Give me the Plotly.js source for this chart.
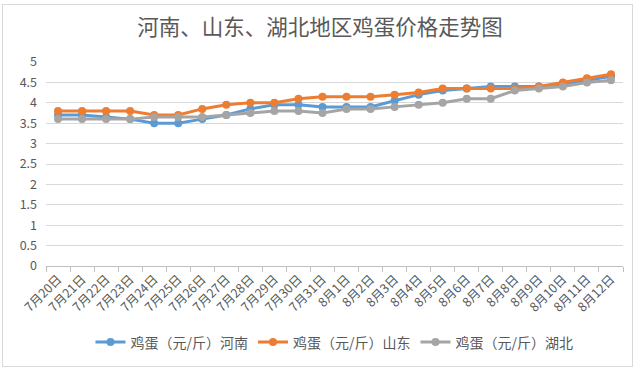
<!DOCTYPE html>
<html>
<head>
<meta charset="utf-8">
<script src="https://cdn.plot.ly/plotly-3.0.1.min.js"></script>
<style>
html,body{margin:0;padding:0;background:#fff;}
#wrap{position:absolute;left:2px;top:4px;width:629px;height:361px;border:1px solid #d9d9d9;}
#chart{position:absolute;left:0;top:0;width:640px;height:371px;}
</style>
</head>
<body>
<div id="wrap"></div>
<div id="chart"></div>
<script>
const categories = ["7月20日","7月21日","7月22日","7月23日","7月24日","7月25日","7月26日","7月27日","7月28日","7月29日","7月30日","7月31日",
  "8月1日","8月2日","8月3日","8月4日","8月5日","8月6日","8月7日","8月8日","8月9日","8月10日","8月11日","8月12日"];
const henan    = [3.7,3.7,3.65,3.6,3.5,3.5,3.6,3.7,3.85,3.95,3.95,3.9,3.9,3.9,4.05,4.2,4.3,4.35,4.4,4.4,4.4,4.45,4.55,4.65];
const shandong = [3.8,3.8,3.8,3.8,3.7,3.7,3.85,3.95,4.0,4.0,4.1,4.15,4.15,4.15,4.2,4.25,4.35,4.35,4.35,4.35,4.4,4.5,4.6,4.7];
const hubei    = [3.6,3.6,3.6,3.6,3.65,3.65,3.65,3.7,3.75,3.8,3.8,3.75,3.85,3.85,3.9,3.95,4.0,4.1,4.1,4.3,4.35,4.4,4.5,4.55];
const seriesNames = ["鸡蛋（元/斤）河南","鸡蛋（元/斤）山东","鸡蛋（元/斤）湖北"];
const colors = ["#5B9BD5","#ED7D31","#A5A5A5"];
const yTicks = [0,0.5,1,1.5,2,2.5,3,3.5,4,4.5,5];

const font = '"Noto Sans CJK SC", "Noto Sans", sans-serif';
const data = [henan, shandong, hubei].map((v,i)=>({
  type:'scatter', mode:'lines+markers', x:categories, y:v, name:seriesNames[i],
  line:{color:colors[i], width:3}, marker:{color:colors[i], size:8},
  cliponaxis:false
}));

const layout = {
  width:640, height:371,
  margin:{l:46, r:17, t:62, b:105},
  paper_bgcolor:'rgba(0,0,0,0)', plot_bgcolor:'rgba(0,0,0,0)',
  font:{family:font, color:'#595959'},
  title:{text:'河南、山东、湖北地区鸡蛋价格走势图', x:0.5, xanchor:'center', y:0.925, yanchor:'middle',
    font:{family:font, size:21.5, color:'#595959'}},
  xaxis:{type:'category', range:[-0.5,23.5], showgrid:false, showline:true, linecolor:'#bfbfbf', linewidth:1,
    ticks:'outside', tickson:'boundaries', ticklen:5, tickcolor:'#bfbfbf', tickangle:-45,
    tickfont:{size:12.5, color:'#595959'}, zeroline:false, fixedrange:true},
  yaxis:{range:[0,5], tickvals:yTicks, ticktext:yTicks.map(String), showgrid:true, gridcolor:'#d9d9d9', gridwidth:1,
    zeroline:false, showline:false, ticks:'', ticklabelstandoff:8, tickfont:{size:12.5, color:'#595959'}, fixedrange:true},
  showlegend:true,
  legend:{orientation:'h', x:0.5, xanchor:'center', y:-0.375, yanchor:'middle', font:{size:14, color:'#595959'},
    itemwidth:30, tracegroupgap:0, bgcolor:'rgba(0,0,0,0)'}
};
Plotly.newPlot('chart', data, layout, {displayModeBar:false, staticPlot:true});
</script>
</body>
</html>
